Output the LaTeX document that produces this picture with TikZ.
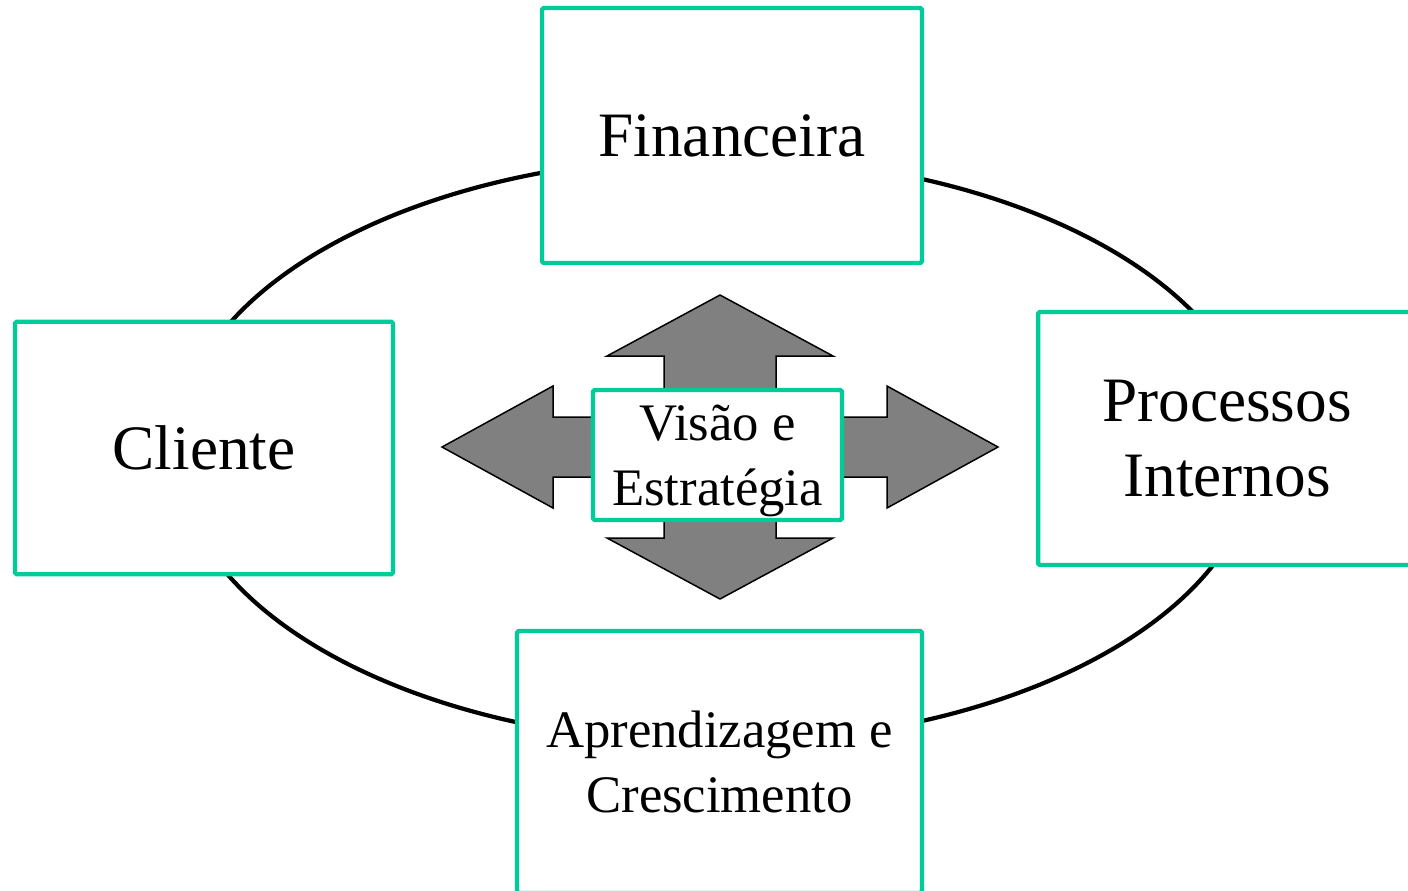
\documentclass[tikz,border=0pt]{standalone}
\usepackage{fontspec}
\setmainfont{Liberation Serif}
\definecolor{verde}{RGB}{0,204,153}
\definecolor{cinza}{RGB}{128,128,128}

\begin{document}
\begin{tikzpicture}[x=0.02cm,y=-0.02cm,
        caixa/.style={draw=verde,line width=2.5pt,fill=white,rounded corners=1pt,align=center,inner sep=0pt},
        grande/.style={font=\fontsize{36}{43}\selectfont},
        media/.style={font=\fontsize{30}{37}\selectfont}]
                \useasboundingbox (0,0) rectangle (1408,890);
                \draw[line width=2.4pt] (716.5,450) ellipse (10.8cm and 5.86cm);
                % seta de quatro pontas
                \draw[fill=cinza,line width=0.85pt] (720,295)--(833,356)--(776,356)--(776,417)--(887,417)--(887,386)--(998,447)--(887,508)--(887,477)--(776,477)--(776,538)--(833,538)--(720,599)--(607,538)--(664,538)--(664,477)--(553,477)--(553,508)--(442,447)--(553,386)--(553,417)--(664,417)--(664,356)--(607,356)--cycle;
                \node[caixa,grande,minimum width=7.6cm,minimum height=5.1cm] (fin) at (732,135.5) {Financeira};
                \node[caixa,grande,minimum width=7.56cm,minimum height=5.05cm] (cli) at (204,448) {Cliente};
                \node[caixa,grande,minimum width=7.56cm,minimum height=5.06cm] (proc) at (1227,438.5) {Processos\\Internos};
                \node[caixa,media,minimum width=8.1cm,minimum height=5.24cm] (apr) at (719.5,762) {Aprendizagem e\\Crescimento};
                \node[caixa,media,minimum width=4.98cm,minimum height=2.6cm,text depth=0pt] (vis) at (717.5,455) {Visão e\\Estratégia};
            \end{tikzpicture}
\end{document}
